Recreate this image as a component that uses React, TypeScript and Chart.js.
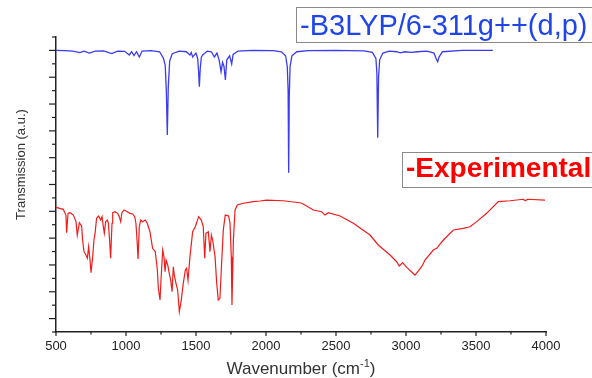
import React, { useEffect, useRef } from "react";
import { Chart, registerables } from "chart.js";

Chart.register(...registerables);

// ---- data ----
const xTickValues = [500, 1000, 1500, 2000, 2500, 3000, 3500, 4000];
const xMinorStep = 250;
const yTickCount = 22; // unlabeled y ticks, 0..22 (odd = long)

const seriesLabels = ["-B3LYP/6-311g++(d,p)", "-Experimental"];
const xTitle = ["Wavenumber (cm", "-1", ")"];
const yTitle = "Transmission (a.u.)";

// calculated (B3LYP) spectrum
const calcWavenumber = [
  500, 560, 620, 671, 700, 738, 780, 840, 898, 940, 990, 1024, 1040, 1057, 1075, 1095, 1115,
  1180, 1240, 1267, 1280, 1288, 1295, 1302, 1312, 1330, 1380, 1430, 1457, 1466, 1476, 1500,
  1512, 1518, 1524, 1530, 1538, 1548, 1580, 1610, 1631, 1650, 1665, 1679, 1690, 1700, 1710,
  1720, 1740, 1755, 1765, 1800, 1900, 2050, 2110, 2140, 2152, 2158, 2162, 2166, 2172, 2185,
  2220, 2300, 2500, 2700, 2760, 2785, 2792, 2798, 2804, 2812, 2835, 2880, 2935, 2960, 2990,
  3040, 3080, 3150, 3200, 3215, 3226, 3236, 3260, 3400, 3620,
];
const calcTransmission = [
  21.0, 20.98, 20.95, 20.83, 20.95, 20.8, 20.95, 20.97, 20.77, 20.95, 20.93, 20.66, 20.9, 20.62, 20.9, 20.51, 20.95,
  20.98, 20.9, 20.43, 19.9, 18.0, 14.69, 18.3, 20.2, 20.75, 20.95, 20.9, 20.66, 20.85, 20.51, 20.8,
  20.4, 19.5, 18.29, 19.6, 20.5, 20.66, 20.95, 20.9, 20.51, 20.8, 20.3, 19.41, 20.1, 19.8, 18.79,
  20.3, 20.6, 19.99, 20.7, 20.95, 21.0, 20.98, 20.9, 20.6, 19.8, 18.0, 11.88, 17.5, 19.8, 20.6,
  20.9, 20.98, 21.0, 20.97, 20.85, 20.4, 19.3, 14.49, 19.0, 20.3, 20.8, 20.95, 20.9, 20.82, 20.9,
  20.85, 20.9, 20.95, 20.8, 20.4, 20.16, 20.5, 20.9, 21.0, 21.0,
];

// experimental spectrum
const expWavenumber = [
  500, 552, 571, 576, 586, 600, 624, 643, 652, 667, 683, 690, 700, 714, 724, 733, 743, 750, 762,
  771, 779, 790, 805, 819, 829, 838, 845, 855, 867, 874, 883, 890, 900, 905, 921, 940, 952, 962,
  971, 986, 1009, 1029, 1048, 1062, 1071, 1081, 1086, 1095, 1105, 1119, 1138, 1152, 1171, 1190,
  1209, 1224, 1231, 1243, 1250, 1262, 1271, 1279, 1286, 1298, 1309, 1319, 1329, 1338, 1345, 1357,
  1369, 1381, 1395, 1409, 1424, 1433, 1443, 1457, 1476, 1495, 1519, 1538, 1552, 1562, 1571, 1588,
  1600, 1610, 1619, 1636, 1648, 1659, 1671, 1683, 1695, 1709, 1733, 1743, 1752, 1757, 1767, 1779,
  1795, 1838, 1909, 1957, 2005, 2121, 2243, 2266, 2338, 2398, 2421, 2445, 2529, 2624, 2743, 2802,
  2886, 2933, 2952, 2976, 3005, 3064, 3112, 3136, 3195, 3219, 3267, 3338, 3409, 3457, 3505, 3576,
  3659, 3743, 3838, 3852, 3867, 3993,
];
const expTransmission = [
  9.3, 9.15, 8.72, 7.4, 8.85, 8.9, 8.72, 8.23, 7.23, 8.15, 7.9, 6.86, 5.99, 5.74, 5.5, 6.36, 5.37, 4.42, 5.62,
  6.86, 7.36, 8.48, 8.65, 8.35, 8.6, 7.85, 7.36, 8.23, 8.35, 8.11, 6.86, 5.5, 8.11, 8.9, 8.97, 8.85, 8.6, 8.23,
  8.9, 9.1, 8.97, 8.85, 8.8, 8.6, 8.11, 6.49, 5.44, 7.85, 8.35, 8.23, 8.35, 8.11, 7.48, 6.24,
  5.99, 4.62, 3.26, 2.39, 3.88, 6.11, 5.62, 4.5, 5.37, 5.0, 4.38, 3.88, 3.01, 4.87, 4.25, 3.63,
  3.13, 1.51, 2.39, 3.63, 4.62, 4.75, 3.88, 5.62, 7.48, 7.85, 8.6, 8.35, 7.85, 5.5, 7.36, 7.48,
  5.99, 7.23, 6.86, 5.62, 3.63, 2.39, 2.51, 5.12, 7.61, 8.72, 8.65, 8.11, 5.62, 2.01, 6.86, 9.1,
  9.47, 9.6, 9.72, 9.77, 9.84, 9.79, 9.64, 9.55, 9.1, 8.97, 8.72, 8.9, 8.65, 8.11, 7.23, 6.49,
  5.74, 5.24, 4.92, 5.17, 4.82, 4.25, 4.87, 5.37, 6.11, 6.24, 6.86, 7.61, 7.73, 7.85, 8.23, 8.85,
  9.72, 9.79, 9.9, 9.79, 9.9, 9.84,
];

const FONT = '"Liberation Sans", Arial, Helvetica, sans-serif';
const AXIS_COLOR = "#222";

const decorPlugin = {
  id: "decor",
  afterDraw(chart: any) {
    const { ctx } = chart;
    const x = chart.scales.x;
    const y = chart.scales.y;
    ctx.save();
    ctx.strokeStyle = AXIS_COLOR;
    ctx.lineWidth = 1.2;
    // x ticks (outward, down)
    const xMin = xTickValues[0];
    const xMax = xTickValues[xTickValues.length - 1];
    for (let v = xMin; v <= xMax; v += xMinorStep) {
      const px = x.getPixelForValue(v);
      const len = xTickValues.includes(v) ? 4 : 2.5;
      ctx.beginPath();
      ctx.moveTo(px, y.bottom);
      ctx.lineTo(px, y.bottom + len);
      ctx.stroke();
    }
    // y ticks (outward, left)
    for (let v = 0; v <= yTickCount; v++) {
      const py = y.getPixelForValue(v);
      const len = v % 2 === 1 ? 7 : 4;
      ctx.beginPath();
      ctx.moveTo(x.left, py);
      ctx.lineTo(x.left - len, py);
      ctx.stroke();
    }

    // y title
    ctx.fillStyle = "#333";
    ctx.save();
    ctx.translate(21, (y.top + y.bottom) / 2 - 20);
    ctx.rotate(-Math.PI / 2);
    ctx.textAlign = "center";
    ctx.textBaseline = "middle";
    ctx.font = `13px ${FONT}`;
    ctx.fillText(yTitle, 0, 0);
    ctx.restore();

    // x title with superscript
    const mainFont = `17px ${FONT}`;
    const supFont = `11px ${FONT}`;
    ctx.textBaseline = "alphabetic";
    ctx.textAlign = "left";
    ctx.font = mainFont;
    const w1 = ctx.measureText(xTitle[0]).width;
    const w3 = ctx.measureText(xTitle[2]).width;
    ctx.font = supFont;
    const w2 = ctx.measureText(xTitle[1]).width;
    const total = w1 + w2 + w3;
    let tx = (x.left + x.right) / 2 - total / 2;
    const baseY = 374;
    ctx.font = mainFont;
    ctx.fillText(xTitle[0], tx, baseY);
    tx += w1;
    ctx.font = supFont;
    ctx.fillText(xTitle[1], tx, baseY - 7);
    tx += w2;
    ctx.font = mainFont;
    ctx.fillText(xTitle[2], tx, baseY);

    // legend boxes
    ctx.lineWidth = 1;
    ctx.strokeStyle = "#8a8a8a";
    ctx.fillStyle = "#fff";
    ctx.fillRect(296.5, 7.5, 320, 35);
    ctx.strokeRect(296.5, 7.5, 320, 35);
    ctx.font = `29px ${FONT}`;
    ctx.fillStyle = "#1f45e8";
    ctx.fillText(seriesLabels[0], 300, 35);

    ctx.fillStyle = "#fff";
    ctx.fillRect(402.5, 152.5, 220, 35);
    ctx.strokeRect(402.5, 152.5, 220, 35);
    ctx.font = `bold 28px ${FONT}`;
    ctx.fillStyle = "#ff0000";
    ctx.fillText(seriesLabels[1], 406, 177);
    ctx.restore();
  },
};

export default function App() {
  const canvasRef = useRef<HTMLCanvasElement | null>(null);

  useEffect(() => {
    if (!canvasRef.current) return;
    const calcData = calcWavenumber.map((w, i) => ({ x: w, y: calcTransmission[i] }));
    const expData = expWavenumber.map((w, i) => ({ x: w, y: expTransmission[i] }));
    const chart = new Chart(canvasRef.current, {
      type: "line",
      data: {
        datasets: [
          {
            label: seriesLabels[0],
            data: calcData,
            borderColor: "#3b3bf2",
            borderWidth: 1.3,
            pointRadius: 0,
            tension: 0,
            fill: false,
          },
          {
            label: seriesLabels[1],
            data: expData,
            borderColor: "#f01c1c",
            borderWidth: 1.2,
            pointRadius: 0,
            tension: 0,
            fill: false,
          },
        ],
      },
      options: {
        responsive: false,
        animation: false,
        layout: { padding: { top: 37, right: 46, left: 0, bottom: 0 } },
        plugins: {
          legend: { display: false },
          tooltip: { enabled: false },
          title: { display: false },
        },
        scales: {
          x: {
            type: "linear",
            min: xTickValues[0],
            max: xTickValues[xTickValues.length - 1],
            afterBuildTicks: (scale: any) => {
              scale.ticks = xTickValues.map((v) => ({ value: v }));
            },
            afterFit: (scale: any) => {
              scale.height = 46;
            },
            grid: { display: false, drawTicks: true, tickLength: 4 },
            border: { display: true, color: AXIS_COLOR, width: 1.5 },
            ticks: {
              autoSkip: false,
              maxRotation: 0,
              padding: 3,
              color: "#222",
              font: { family: FONT, size: 13 },
              callback: (v: any) => String(v),
            },
          },
          y: {
            type: "linear",
            min: 0,
            max: yTickCount,
            afterFit: (scale: any) => {
              scale.width = 56;
            },
            grid: { display: false, drawTicks: false },
            border: { display: true, color: AXIS_COLOR, width: 1.5 },
            ticks: { display: false },
          },
        },
      },
      plugins: [decorPlugin],
    });
    return () => chart.destroy();
  }, []);

  return (
    <div style={{ position: "absolute", left: 0, top: 0, width: 592, height: 378, overflow: "hidden", background: "#fff" }}>
      <canvas ref={canvasRef} width={592} height={378} style={{ display: "block" }} />
    </div>
  );
}
